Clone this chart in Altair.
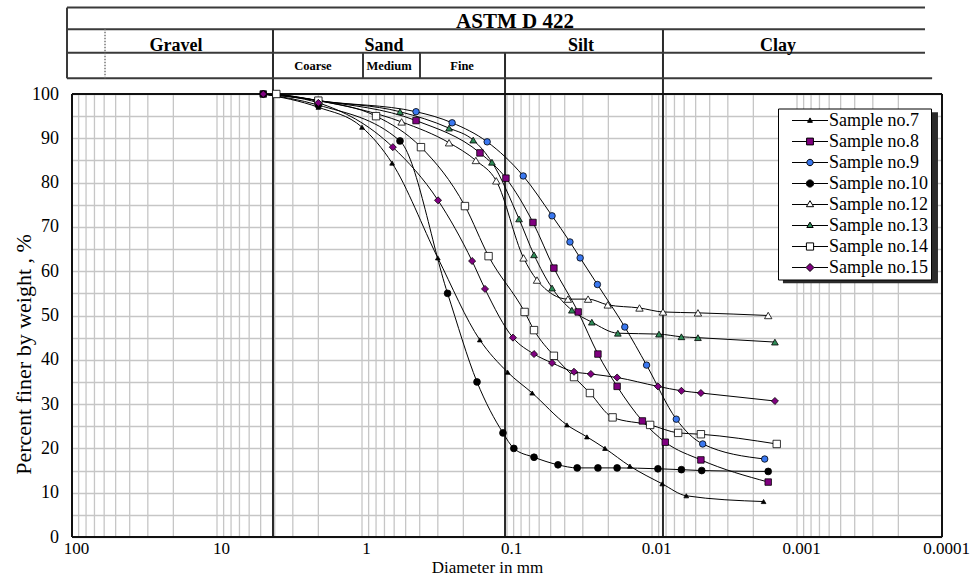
import altair as alt
import pandas as pd

SERIF = "Liberation Serif"

# ---------------- data ----------------
samples = ["Sample no.7", "Sample no.8", "Sample no.9", "Sample no.10",
           "Sample no.12", "Sample no.13", "Sample no.14", "Sample no.15"]

s7_d = [4.8, 2.0, 1.0, 0.62, 0.30, 0.154, 0.099, 0.067, 0.0386, 0.0281, 0.0211, 0.0142, 0.0085, 0.0058, 0.0017]
s7_p = [100, 97, 92.5, 84.4, 63, 44.5, 37.2, 32.5, 25.3, 22.6, 20, 16, 12, 9.3, 8]

s8_d = [4.8, 2.0, 0.424, 0.1536, 0.1017, 0.0662, 0.0475, 0.0323, 0.0236, 0.0174, 0.01165, 0.0081, 0.0046, 0.00158]
s8_p = [100, 98.5, 94, 86.7, 81, 71, 60.7, 50.8, 41.3, 34, 26.2, 21.4, 17.4, 12.4]

s9_d = [3.9, 2.0, 0.424, 0.239, 0.137, 0.0773, 0.0489, 0.0368, 0.0313, 0.0238, 0.0154, 0.0109, 0.0068, 0.00447, 0.00167]
s9_p = [100, 98.5, 96, 93.5, 89.2, 81.5, 72.5, 66.6, 63, 57, 47.4, 38.8, 26.6, 21, 17.6]

s10_d = [4.8, 2.0, 0.547, 0.257, 0.161, 0.1066, 0.0897, 0.0651, 0.0445, 0.0328, 0.0236, 0.0174, 0.0091, 0.00627, 0.00454, 0.00158]
s10_p = [100, 97.5, 89.4, 55, 35, 23.5, 20, 18, 16.3, 15.6, 15.6, 15.6, 15.4, 15.2, 15, 14.8]

s12_d = [3.9, 2.0, 0.533, 0.251, 0.164, 0.1186, 0.0769, 0.0621, 0.038, 0.0276, 0.0202, 0.0122, 0.0084, 0.00482, 0.00158]
s12_p = [100, 98.5, 93.7, 89, 85, 80.4, 63, 58, 53.7, 53.7, 52.4, 51.7, 50.8, 50.6, 50]

s13_d = [3.9, 2.0, 0.547, 0.251, 0.171, 0.127, 0.0826, 0.0651, 0.0489, 0.0357, 0.026, 0.0172, 0.00895, 0.00627, 0.00482, 0.00142]
s13_p = [100, 98.5, 96, 92.3, 89.6, 84.6, 71.8, 63.7, 56.2, 51.2, 48.5, 46, 45.8, 45.2, 45, 44]

s14_d = [3.9, 2.0, 0.80, 0.392, 0.195, 0.134, 0.0756, 0.0651, 0.0475, 0.0345, 0.0268, 0.0187, 0.0103, 0.0066, 0.0046, 0.00138]
s14_p = [100, 98.5, 95, 88, 74.7, 63.4, 50.8, 46.7, 40.9, 36.1, 32.5, 27, 25.3, 23.5, 23.2, 21]

s15_d = [4.8, 2.0, 0.613, 0.299, 0.174, 0.1418, 0.091, 0.0651, 0.0489, 0.0345, 0.0264, 0.0174, 0.0091, 0.00627, 0.0046, 0.00142]
s15_p = [100, 98, 88, 76, 62.3, 56, 45, 41.3, 39.3, 37.3, 36.8, 36, 34, 33, 32.5, 30.7]

all_d = [s7_d, s8_d, s9_d, s10_d, s12_d, s13_d, s14_d, s15_d]
all_p = [s7_p, s8_p, s9_p, s10_p, s12_p, s13_p, s14_p, s15_p]

x_tick_values = [100, 10, 1, 0.1, 0.01, 0.001, 0.0001]
y_grid_values = list(range(0, 101, 5))

# log grid: 1..9 multiples of each decade
grid_d = sorted({round(m * 10.0 ** e, 8) for e in range(-4, 2) for m in range(1, 10)} | {100.0})

# classification boundaries (mm) as drawn in the reference
bound_d = [4.11, 0.1032, 0.0084]
bound_top = [114.6, 109.3, 114.6]

# header table
hdr_rows_y = [119.5, 114.6, 109.3]
hdr_bottom_y = 103.55
hdr_left_d = 108.3
hdr_right_d = 0.000131
hdr_bottom_right_d = 0.000117
hdr_sub_d = [0.984, 0.398]
hdr_dot_d = 59.2

hdr1_text = ["ASTM D 422"]
hdr1_d = [0.0881]
hdr2_text = ["Gravel", "Sand", "Silt", "Clay"]
hdr2_d = [19.2, 0.705, 0.0309, 0.00135]
hdr3_text = ["Coarse", "Medium", "Fine"]
hdr3_d = [2.18, 0.651, 0.204]
hdr_text_y = [114.9, 109.7, 105.4]

# legend drop shadow (diameter / percent extents)
shadow_d = [0.00125, 0.0001066]
shadow_p = [95.9, 57.3]

# ---------------- marker styles ----------------
shapes = ["triangle-up", "square", "circle", "circle", "triangle-up", "triangle-up", "square", "diamond"]
fills = ["black", "#800080", "#3a78f0", "black", "white", "#2e8b57", "white", "#800080"]
sizes = [22, 42, 42, 46, 55, 45, 55, 50]
strokes = ["black"] * len(samples)

legend_paths = [
    "M-4.5,0H-0.36M0.36,0H4.5M0,-0.65L0.6,0.45H-0.6Z",
    "M-4.5,0H-0.85M0.85,0H4.5M-0.85,-0.85H0.85V0.85H-0.85Z",
    "M-4.5,0H-0.8M0.8,0H4.5M-0.8,0A0.8,0.8,0,1,0,0.8,0A0.8,0.8,0,1,0,-0.8,0Z",
    "M-4.5,0H-0.9M0.9,0H4.5M-0.9,0A0.9,0.9,0,1,0,0.9,0A0.9,0.9,0,1,0,-0.9,0Z",
    "M-4.5,0H-0.57M0.57,0H4.5M0,-0.95L0.9,0.55H-0.9Z",
    "M-4.5,0H-0.5M0.5,0H4.5M0,-0.85L0.8,0.5H-0.8Z",
    "M-4.5,0H-0.9M0.9,0H4.5M-0.9,-0.9H0.9V0.9H-0.9Z",
    "M-4.5,0H-1M1,0H4.5M0,-1L1,0L0,1L-1,0Z",
]

# ---------------- tables ----------------
rows = []
for name, ds, ps in zip(samples, all_d, all_p):
    for i, (d, p) in enumerate(zip(ds, ps)):
        rows.append({"sample": name, "d": d, "p": p, "idx": i})
df = pd.DataFrame(rows)

grid_df = pd.DataFrame({"x1": grid_d, "y1": [0] * len(grid_d), "y2": [100] * len(grid_d)})
bound_df = pd.DataFrame({"x1": bound_d, "y1": [0] * len(bound_d), "y2": bound_top})

frame_df = pd.DataFrame({
    "x1": [100, 0.0001, 100, 100],
    "x2": [100, 0.0001, 0.0001, 0.0001],
    "y1": [0, 0, 0, 100],
    "y2": [100, 100, 0, 100],
})

hdr_lines = pd.DataFrame({
    "x1": [hdr_left_d] * 4 + [hdr_left_d] + hdr_sub_d,
    "x2": [hdr_right_d] * 3 + [hdr_bottom_right_d] + [hdr_left_d] + hdr_sub_d,
    "y1": hdr_rows_y + [hdr_bottom_y] + [hdr_bottom_y] * 3,
    "y2": hdr_rows_y + [hdr_bottom_y] + [hdr_rows_y[0], hdr_rows_y[2], hdr_rows_y[2]],
})
hdr_dot = pd.DataFrame({"x1": [hdr_dot_d], "y1": [hdr_bottom_y], "y2": [hdr_rows_y[1]]})

h1 = pd.DataFrame({"t": hdr1_text, "d": hdr1_d, "y": [hdr_text_y[0]] * len(hdr1_text)})
h2 = pd.DataFrame({"t": hdr2_text, "d": hdr2_d, "y": [hdr_text_y[1]] * len(hdr2_text)})
h3 = pd.DataFrame({"t": hdr3_text, "d": hdr3_d, "y": [hdr_text_y[2]] * len(hdr3_text)})

shadow_df = pd.DataFrame({"x1": [shadow_d[0]], "x2": [shadow_d[1]], "y1": [shadow_p[0]], "y2": [shadow_p[1]]})

legend_df = pd.DataFrame({"sample": samples, "d": [1.0] * len(samples), "p": [50.0] * len(samples)})

# ---------------- scales / axes ----------------
xscale = alt.Scale(type="log", domain=[0.0001, 100], reverse=True, nice=False)
yscale = alt.Scale(domain=[0, 119.64], nice=False)

xaxis = alt.Axis(values=x_tick_values, format="~g", grid=False, ticks=False, domain=False,
                 labelFont=SERIF, labelFontSize=17, labelColor="black", labelPadding=3, labelOffset=4,
                 labelFlush=False, labelOverlap=False,
                 titleFont=SERIF, titleFontSize=17, titleFontWeight="normal", titleColor="black",
                 titleX=415, titleY=30, titleBaseline="middle", titleAlign="center")
yaxis = alt.Axis(values=y_grid_values, labelExpr="datum.value % 10 === 0 ? datum.label : ''",
                 grid=True, gridColor="#c6c6c6", gridWidth=1.3, ticks=False, domain=False,
                 labelFont=SERIF, labelFontSize=18, labelColor="black", labelPadding=13.5,
                 titleFont=SERIF, titleFontSize=22, titleFontWeight="normal", titleColor="black",
                 titleX=-49, titleY=347, titleAngle=270, titleAlign="center", titleBaseline="middle")

XT = "Diameter in mm"
YT = "Percent finer by weight ,  %"


def X(field):
    return alt.X(field, scale=xscale, axis=xaxis, title=XT)


def Y(field):
    return alt.Y(field, scale=yscale, axis=yaxis, title=YT)


vgrid = alt.Chart(grid_df).mark_rule(color="#c6c6c6", strokeWidth=1.3).encode(
    x=X("x1:Q"), y=Y("y1:Q"), y2="y2:Q")

bounds = alt.Chart(bound_df).mark_rule(color="#2a2a2a", strokeWidth=2).encode(
    x=X("x1:Q"), y=Y("y1:Q"), y2="y2:Q")

frame = alt.Chart(frame_df).mark_rule(color="#111111", strokeWidth=2).encode(
    x=X("x1:Q"), x2="x2:Q", y=Y("y1:Q"), y2="y2:Q")

hlines = alt.Chart(hdr_lines).mark_rule(color="#3a3a3a", strokeWidth=2).encode(
    x=X("x1:Q"), x2="x2:Q", y=Y("y1:Q"), y2="y2:Q")

hdot = alt.Chart(hdr_dot).mark_rule(color="#777777", strokeWidth=1.5, strokeDash=[1.5, 1.5]).encode(
    x=X("x1:Q"), y=Y("y1:Q"), y2="y2:Q")

t1 = alt.Chart(h1).mark_text(font=SERIF, fontSize=21, fontWeight="bold", color="black",
                             baseline="alphabetic", align="center").encode(x=X("d:Q"), y=Y("y:Q"), text="t:N")
t2 = alt.Chart(h2).mark_text(font=SERIF, fontSize=18, fontWeight="bold", color="black",
                             baseline="alphabetic", align="center").encode(x=X("d:Q"), y=Y("y:Q"), text="t:N")
t3 = alt.Chart(h3).mark_text(font=SERIF, fontSize=12.5, fontWeight="bold", color="black",
                             baseline="alphabetic", align="center").encode(x=X("d:Q"), y=Y("y:Q"), text="t:N")

shadow = alt.Chart(shadow_df).mark_rect(color="#2b2b2b").encode(
    x=X("x1:Q"), x2="x2:Q", y=Y("y1:Q"), y2="y2:Q")

lines = alt.Chart(df).mark_line(color="black", strokeWidth=1, interpolate="monotone").encode(
    x=X("d:Q"), y=Y("p:Q"), detail="sample:N", order="idx:Q")

point_layers = []
for name, shp, fc, sz in zip(samples, shapes, fills, sizes):
    point_layers.append(
        alt.Chart(df).transform_filter(alt.datum.sample == name).mark_point(
            shape=shp, filled=True, fill=fc, stroke="black", strokeWidth=0.8, size=sz, opacity=1
        ).encode(x=X("d:Q"), y=Y("p:Q"))
    )

leg = alt.Legend(title=None, orient="none", legendX=706, legendY=101.5, fillColor="white",
                 strokeColor="black", padding=3, symbolSize=64,
                 symbolStrokeColor="black", symbolStrokeWidth=1, symbolOpacity=1,
                 symbolOffset=20, labelOffset=10, rowPadding=3,
                 labelExpr="datum.label + '    '",
                 labelFont=SERIF, labelFontSize=18, labelColor="black", labelLimit=300)

legend_layer = alt.Chart(legend_df).mark_point(filled=False, opacity=0, strokeWidth=1).encode(
    x=X("d:Q"), y=Y("p:Q"),
    shape=alt.Shape("sample:N", scale=alt.Scale(domain=samples, range=legend_paths), legend=leg),
    fill=alt.Fill("sample:N", scale=alt.Scale(domain=samples, range=fills), legend=leg),
    stroke=alt.Stroke("sample:N", scale=alt.Scale(domain=samples, range=strokes), legend=leg),
)

chart = alt.layer(
    vgrid, bounds, hlines, hdot, t1, t2, t3, frame, shadow, lines, *point_layers, legend_layer
).properties(
    width=870, height=530,
    padding={"left": 72, "top": 7, "right": 32, "bottom": 40},
    autosize=alt.AutoSizeParams(type="none"),
    background="white",
).configure_view(stroke=None)

chart.save("out.html", embed_options={"renderer": "svg", "actions": False})
